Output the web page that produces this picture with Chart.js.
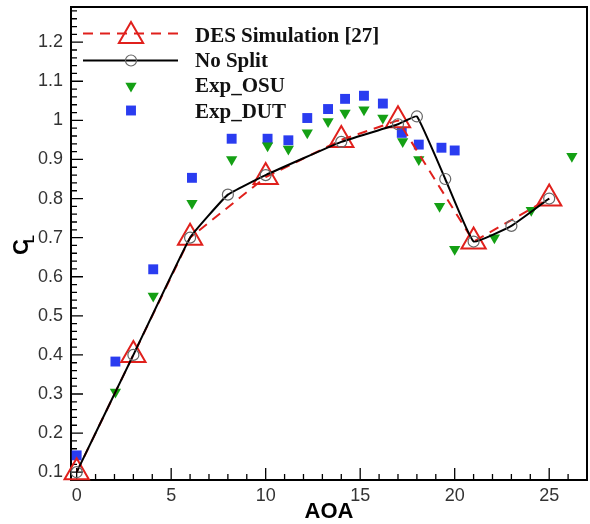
<!DOCTYPE html>
<html>
<head>
<meta charset="utf-8">
<script src="https://cdn.jsdelivr.net/npm/chart.js@4.4.1/dist/chart.umd.min.js"></script>
<style>
  html, body { margin: 0; padding: 0; background: #fff; }
</style>
</head>
<body>
<canvas id="clChart" width="590" height="524"></canvas>
<script>
// lift coefficient vs angle of attack
const desAoa = [0, 3, 6, 10, 14, 17, 21, 25];
const desCl = [0.10, 0.40, 0.70, 0.855, 0.95, 1.00, 0.69, 0.80];

const noSplitAoa = [0, 3, 6, 8, 10, 14, 17, 18, 19.5, 21, 23, 25];
const noSplitCl = [0.10, 0.40, 0.70, 0.81, 0.86, 0.945, 0.99, 1.01, 0.85, 0.69, 0.73, 0.80];

const osuAoa = [2.05, 4.05, 6.1, 8.2, 10.1, 11.2, 12.2, 13.3, 14.2, 15.2, 16.2, 17.25, 18.1, 19.2, 20.0, 22.1, 24.05, 26.2];
const osuCl = [0.305, 0.551, 0.788, 0.90, 0.935, 0.927, 0.968, 0.997, 1.019, 1.027, 1.006, 0.946, 0.90, 0.78, 0.67, 0.70, 0.77, 0.908];

const dutAoa = [0, 2.05, 4.05, 6.1, 8.2, 10.1, 11.2, 12.2, 13.3, 14.2, 15.2, 16.2, 17.2, 18.1, 19.3, 20.0];
const dutCl = [0.143, 0.383, 0.619, 0.853, 0.953, 0.953, 0.949, 1.006, 1.029, 1.055, 1.063, 1.043, 0.968, 0.938, 0.93, 0.923];

const xTicks = [0, 5, 10, 15, 20, 25];
const yTicks = [0.1, 0.2, 0.3, 0.4, 0.5, 0.6, 0.7, 0.8, 0.9, 1.0, 1.1, 1.2];

const toPoints = (xs, ys) => xs.map((x, i) => ({ x, y: ys[i] }));

const series = [
  {
    label: 'DES Simulation [27]',
    data: toPoints(desAoa, desCl),
    showLine: true,
    borderColor: '#e0201c',
    borderWidth: 2,
    borderDash: [10, 7],
    pointStyle: 'triangle',
    pointRadius: 14,
    pointHoverRadius: 14,
    pointBorderWidth: 2,
    pointBorderColor: '#e0201c',
    pointBackgroundColor: 'rgba(0,0,0,0)',
    order: 2
  },
  {
    label: 'No Split',
    data: toPoints(noSplitAoa, noSplitCl),
    showLine: true,
    borderColor: '#000',
    borderWidth: 2,
    tension: 0.1,
    pointStyle: 'circle',
    pointRadius: 5.5,
    pointHoverRadius: 5.5,
    pointBorderWidth: 1.2,
    pointBorderColor: '#666',
    pointBackgroundColor: 'rgba(0,0,0,0)',
    order: 1
  },
  {
    label: 'Exp_OSU',
    data: toPoints(osuAoa, osuCl),
    showLine: false,
    pointStyle: 'triangle',
    rotation: 180,
    pointRadius: 6.5,
    pointHoverRadius: 6.5,
    pointBorderWidth: 0,
    pointBackgroundColor: '#14a014',
    borderColor: '#14a014',
    order: 3
  },
  {
    label: 'Exp_DUT',
    data: toPoints(dutAoa, dutCl),
    showLine: false,
    pointStyle: 'rect',
    pointRadius: 7,
    pointHoverRadius: 7,
    pointBorderWidth: 0,
    pointBackgroundColor: '#2a3cf0',
    borderColor: '#2a3cf0',
    order: 4
  }
];
series.forEach(d => { d.clip = false; });

// box around the plot with inward major/minor ticks
const frameTicks = {
  id: 'frameTicks',
  beforeDatasetsDraw(chart) {
    const { ctx, chartArea: a, scales: { x, y } } = chart;
    ctx.save();
    ctx.strokeStyle = '#000';
    ctx.lineWidth = 1.3;
    ctx.beginPath();
    for (let v = 0; v <= 27; v++) {
      const px = x.getPixelForValue(v);
      const len = v % 5 === 0 ? 12 : 6;
      ctx.moveTo(px, a.bottom);
      ctx.lineTo(px, a.bottom - len);
    }
    for (let k = 5; k <= 64; k++) {
      const py = y.getPixelForValue(k / 50);
      const len = k % 5 === 0 ? 12 : 6;
      ctx.moveTo(a.left, py);
      ctx.lineTo(a.left + len, py);
    }
    ctx.stroke();
    ctx.lineWidth = 2;
    ctx.strokeRect(a.left, a.top, a.right - a.left, a.bottom - a.top);
    ctx.restore();
  }
};

// C_L title with subscript
const yTitle = {
  id: 'yTitle',
  afterDraw(chart) {
    const { ctx } = chart;
    ctx.save();
    ctx.translate(22, 247);
    ctx.rotate(-Math.PI / 2);
    ctx.fillStyle = '#000';
    ctx.textAlign = 'center';
    ctx.textBaseline = 'middle';
    ctx.font = 'bold 22px "Liberation Sans", Arial, sans-serif';
    ctx.fillText('C', 0, 0);
    ctx.font = 'bold 13px "Liberation Sans", Arial, sans-serif';
    ctx.fillText('L', 8, 8);
    ctx.restore();
  }
};

// line + marker legend inside the plot
const lineLegend = {
  id: 'lineLegend',
  afterDraw(chart) {
    const { ctx } = chart;
    const rows = [
      { line: 33.5, mark: 36, text: 41.5 },
      { line: 60.5, mark: 60.5, text: 66.5 },
      { line: null, mark: 86, text: 92 },
      { line: null, mark: 110.5, text: 117.5 }
    ];
    ctx.save();
    chart.data.datasets.forEach((ds, i) => {
      const r = rows[i];
      if (r.line !== null) {
        ctx.strokeStyle = ds.borderColor;
        ctx.lineWidth = ds.borderWidth;
        ctx.setLineDash(ds.borderDash || []);
        ctx.beginPath();
        ctx.moveTo(83, r.line);
        ctx.lineTo(178, r.line);
        ctx.stroke();
        ctx.setLineDash([]);
      }
      ctx.fillStyle = ds.pointBackgroundColor;
      ctx.strokeStyle = ds.pointBorderColor || ds.borderColor;
      ctx.lineWidth = ds.pointBorderWidth;
      Chart.helpers.drawPoint(ctx, {
        pointStyle: ds.pointStyle,
        rotation: ds.rotation || 0,
        radius: ds.pointRadius,
        borderWidth: ds.pointBorderWidth
      }, 131, r.mark);
      ctx.fillStyle = '#111';
      ctx.font = 'bold 21px "Liberation Serif", "Times New Roman", serif';
      ctx.textAlign = 'left';
      ctx.textBaseline = 'alphabetic';
      ctx.fillText(ds.label, 195, r.text);
    });
    ctx.restore();
  }
};

const tickFont = { family: '"Liberation Sans", Arial, sans-serif', size: 18 };

// pin the plot box: no automatic label padding around the axes
const noPad = s => { s.paddingTop = 0; s.paddingBottom = 0; s.paddingLeft = 0; s.paddingRight = 0; };

new Chart(document.getElementById('clChart'), {
  type: 'scatter',
  data: { datasets: series },
  options: {
    responsive: false,
    animation: false,
    events: [],
    layout: { autoPadding: false, padding: { top: 7, right: 3, left: 0, bottom: 0 } },
    plugins: {
      legend: { display: false },
      tooltip: { enabled: false }
    },
    scales: {
      x: {
        type: 'linear',
        min: -0.3,
        max: 27,
        afterBuildTicks: s => { s.ticks = xTicks.map(v => ({ value: v })); },
        afterFit: s => { s.height = 44; noPad(s); },
        grid: { display: false, drawTicks: false },
        border: { display: false },
        ticks: { font: tickFont, color: '#333', padding: 5, maxRotation: 0 },
        title: {
          display: true,
          text: 'AOA',
          color: '#000',
          font: { family: '"Liberation Sans", Arial, sans-serif', size: 22, weight: 'bold', lineHeight: 1 },
          padding: { top: 0, bottom: 1 }
        }
      },
      y: {
        type: 'linear',
        min: 0.08,
        max: 1.29,
        afterBuildTicks: s => { s.ticks = yTicks.map(v => ({ value: v })); },
        afterFit: s => { s.width = 71; noPad(s); },
        grid: { display: false, drawTicks: false },
        border: { display: false },
        ticks: {
          font: tickFont,
          color: '#333',
          padding: 8,
          callback: v => String(+v.toFixed(2))
        }
      }
    }
  },
  plugins: [frameTicks, yTitle, lineLegend]
});
</script>
</body>
</html>
